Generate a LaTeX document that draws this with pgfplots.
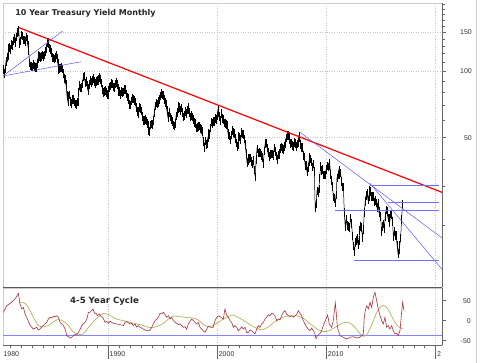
\documentclass[border=0pt]{standalone}
\usepackage{pgfplots}
\pgfplotsset{compat=1.18}
\usepackage{fontspec}
\setmainfont{Liberation Sans}
\newfontfamily\titlefont{DejaVu Sans}
\definecolor{oscred}{HTML}{A8323E}
\definecolor{olivec}{HTML}{B2B25A}
\definecolor{tlblue}{HTML}{5A5AF5}
\definecolor{hblue}{HTML}{6E6EFF}
\definecolor{axisgray}{HTML}{666666}
\definecolor{lightframe}{HTML}{CCCCCC}
\definecolor{labelc}{HTML}{333333}
\begin{document}
\begin{tikzpicture}[x=1pt,y=1pt]
\useasboundingbox (0,0) rectangle (480,363);
\draw[lightframe, line width=0.6pt] (476.5,0) -- (476.5,363);
% ---------------- top panel ----------------
\begin{axis}[
  at={(3pt,76pt)}, anchor=south west,
  scale only axis, width=439pt, height=284pt,
  xmin=1980.35, xmax=2020.58,
  ymode=log, ymin=10.56, ymax=203.4,
  axis line style={draw=lightframe, line width=0.6pt},
  xtick={1990,2000,2010,2020}, xticklabels={}, xtick style={draw=none},
  xmajorgrids, ymajorgrids,
  grid style={dotted, draw=gray!45, line width=0.5pt},
  ytick={50,100,150}, yticklabels={},
  minor ytick={20,30,40,60,70,80,90,110,120,130,140,160,170,180,190,200},
  ytick pos=right, tick align=outside,
  major tick length=4pt, minor tick length=2.5pt,
  ytick style={draw=axisgray, line width=0.5pt},
  clip mode=individual,
]
\addplot[black, line width=0.5pt,
  error bars/.cd, y dir=both, y fixed relative=0.045,
  error bar style={black, line width=0.6pt}, error mark=none]
table {
x y
1980.375 101.8
1980.458 97.8
1980.542 102.5
1980.625 111.0
1980.708 115.1
1980.792 117.5
1980.875 126.8
1980.958 128.4
1981.042 125.7
1981.125 131.9
1981.208 131.2
1981.292 136.8
1981.375 141.0
1981.458 134.7
1981.542 142.8
1981.625 149.4
1981.708 153.2
1981.792 151.5
1981.875 133.9
1981.958 137.2
1982.042 145.9
1982.125 144.3
1982.208 138.6
1982.292 138.7
1982.375 136.2
1982.458 143.0
1982.542 139.5
1982.625 130.6
1982.708 123.4
1982.792 109.1
1982.875 105.5
1982.958 105.4
1983.042 104.6
1983.125 107.2
1983.208 105.1
1983.292 104.0
1983.375 103.8
1983.458 108.5
1983.542 113.8
1983.625 118.5
1983.708 116.5
1983.792 115.4
1983.875 116.9
1983.958 118.3
1984.042 116.7
1984.125 118.4
1984.208 123.2
1984.292 126.3
1984.375 134.1
1984.458 135.6
1984.542 133.6
1984.625 127.2
1984.708 125.2
1984.792 121.6
1984.875 115.7
1984.958 115.0
1985.042 113.8
1985.125 115.1
1985.208 118.6
1985.292 114.3
1985.375 108.5
1985.458 101.6
1985.542 103.1
1985.625 103.3
1985.708 103.7
1985.792 102.4
1985.875 97.8
1985.958 92.6
1986.042 91.9
1986.125 87.0
1986.208 77.8
1986.292 73.0
1986.375 77.1
1986.458 78.0
1986.542 73.0
1986.625 71.7
1986.708 74.5
1986.792 74.3
1986.875 72.5
1986.958 71.1
1987.042 70.8
1987.125 72.5
1987.208 72.5
1987.292 80.2
1987.375 86.1
1987.458 84.0
1987.542 84.5
1987.625 87.6
1987.708 94.2
1987.792 95.2
1987.875 88.6
1987.958 89.9
1988.042 86.7
1988.125 82.1
1988.208 83.7
1988.292 87.2
1988.375 90.9
1988.458 89.2
1988.542 90.6
1988.625 92.6
1988.708 89.8
1988.792 88.0
1988.875 89.6
1988.958 91.1
1989.042 90.9
1989.125 91.7
1989.208 93.6
1989.292 91.8
1989.375 88.6
1989.458 82.8
1989.542 80.2
1989.625 81.1
1989.708 81.9
1989.792 80.1
1989.875 78.7
1989.958 78.4
1990.042 82.1
1990.125 84.7
1990.208 85.9
1990.292 87.9
1990.375 87.6
1990.458 84.8
1990.542 84.7
1990.625 87.5
1990.708 88.9
1990.792 87.2
1990.875 83.9
1990.958 80.8
1991.042 80.9
1991.125 78.5
1991.208 81.1
1991.292 80.4
1991.375 80.7
1991.458 82.8
1991.542 82.7
1991.625 79.0
1991.708 76.5
1991.792 75.3
1991.875 74.2
1991.958 70.9
1992.042 70.3
1992.125 73.4
1992.208 75.4
1992.292 74.8
1992.375 73.9
1992.458 72.6
1992.542 68.4
1992.625 65.9
1992.708 64.2
1992.792 65.9
1992.875 68.7
1992.958 67.7
1993.042 66.0
1993.125 62.6
1993.208 59.8
1993.292 59.7
1993.375 60.4
1993.458 59.6
1993.542 58.1
1993.625 56.8
1993.708 53.6
1993.792 53.3
1993.875 57.2
1993.958 57.7
1994.042 57.5
1994.125 59.7
1994.208 64.8
1994.292 69.7
1994.375 71.8
1994.458 71.0
1994.542 73.0
1994.625 72.4
1994.708 74.6
1994.792 77.4
1994.875 79.6
1994.958 78.1
1995.042 77.8
1995.125 74.7
1995.208 72.0
1995.292 70.6
1995.375 66.3
1995.458 61.7
1995.542 62.8
1995.625 64.9
1995.708 62.0
1995.792 60.4
1995.875 59.3
1995.958 57.1
1996.042 56.5
1996.125 58.1
1996.208 62.7
1996.292 65.1
1996.375 67.4
1996.458 69.1
1996.542 68.7
1996.625 66.4
1996.708 68.3
1996.792 65.3
1996.875 62.0
1996.958 63.0
1997.042 65.8
1997.125 64.2
1997.208 66.9
1997.292 68.9
1997.375 67.1
1997.458 64.9
1997.542 62.2
1997.625 63.0
1997.708 62.1
1997.792 60.3
1997.875 58.8
1997.958 58.1
1998.042 55.4
1998.125 55.7
1998.208 56.5
1998.292 56.4
1998.375 56.5
1998.458 55.0
1998.542 54.6
1998.625 53.4
1998.708 48.1
1998.792 45.3
1998.875 48.3
1998.958 46.5
1999.042 47.2
1999.125 50.0
1999.208 52.3
1999.292 51.8
1999.375 55.4
1999.458 59.0
1999.542 57.9
1999.625 59.4
1999.708 59.2
1999.792 61.1
1999.875 60.3
1999.958 62.8
2000.042 66.6
2000.125 65.2
2000.208 62.6
2000.292 59.9
2000.375 64.4
2000.458 61.0
2000.542 60.5
2000.625 58.3
2000.708 58.0
2000.792 57.4
2000.875 57.2
2000.958 52.4
2001.042 51.6
2001.125 51.0
2001.208 48.9
2001.292 51.4
2001.375 53.9
2001.458 52.8
2001.542 52.4
2001.625 49.7
2001.708 47.3
2001.792 45.7
2001.875 46.5
2001.958 50.9
2002.042 50.4
2002.125 49.1
2002.208 52.8
2002.292 52.1
2002.375 51.6
2002.458 49.3
2002.542 46.5
2002.625 42.6
2002.708 38.7
2002.792 39.4
2002.875 40.5
2002.958 40.3
2003.042 40.5
2003.125 39.0
2003.208 38.1
2003.292 39.6
2003.375 35.7
2003.458 33.3
2003.542 39.8
2003.625 44.5
2003.708 42.7
2003.792 42.9
2003.875 43.0
2003.958 42.7
2004.042 41.5
2004.125 40.8
2004.208 38.3
2004.292 43.5
2004.375 47.2
2004.458 47.3
2004.542 45.0
2004.625 42.8
2004.708 41.3
2004.792 41.0
2004.875 41.9
2004.958 42.3
2005.042 42.2
2005.125 41.7
2005.208 45.0
2005.292 43.4
2005.375 41.4
2005.458 40.0
2005.542 41.8
2005.625 42.6
2005.708 42.0
2005.792 44.6
2005.875 45.4
2005.958 44.7
2006.042 44.2
2006.125 45.7
2006.208 47.2
2006.292 49.9
2006.375 51.1
2006.458 51.1
2006.542 50.9
2006.625 48.8
2006.708 47.2
2006.792 47.3
2006.875 46.0
2006.958 45.6
2007.042 47.6
2007.125 47.2
2007.208 45.6
2007.292 46.9
2007.375 47.5
2007.458 51.0
2007.542 50.0
2007.625 46.7
2007.708 45.2
2007.792 45.3
2007.875 41.5
2007.958 41.0
2008.042 37.4
2008.125 37.4
2008.208 35.1
2008.292 36.8
2008.375 38.8
2008.458 41.0
2008.542 40.1
2008.625 38.9
2008.708 36.9
2008.792 38.1
2008.875 35.3
2008.958 24.2
2009.042 25.2
2009.125 28.7
2009.208 28.2
2009.292 29.3
2009.375 32.9
2009.458 37.2
2009.542 35.6
2009.625 35.9
2009.708 34.0
2009.792 33.9
2009.875 34.0
2009.958 35.9
2010.042 37.3
2010.125 36.9
2010.208 37.3
2010.292 38.5
2010.375 34.2
2010.458 32.0
2010.542 30.1
2010.625 27.0
2010.708 26.5
2010.792 25.4
2010.875 27.6
2010.958 32.9
2011.042 33.9
2011.125 35.8
2011.208 34.1
2011.292 34.6
2011.375 31.7
2011.458 30.0
2011.542 30.0
2011.625 23.0
2011.708 19.8
2011.792 21.5
2011.875 20.1
2011.958 19.8
2012.042 19.7
2012.125 19.7
2012.208 21.7
2012.292 20.5
2012.375 18.0
2012.458 16.2
2012.542 15.3
2012.625 16.8
2012.708 17.2
2012.792 17.5
2012.875 16.5
2012.958 17.2
2013.042 19.1
2013.125 19.8
2013.208 19.6
2013.292 17.6
2013.375 19.3
2013.458 23.0
2013.542 25.8
2013.625 27.4
2013.708 28.1
2013.792 26.2
2013.875 27.2
2013.958 29.0
2014.042 28.6
2014.125 27.1
2014.208 27.2
2014.292 27.1
2014.375 25.6
2014.458 26.0
2014.542 25.4
2014.625 24.2
2014.708 25.3
2014.792 23.0
2014.875 23.3
2014.958 22.1
2015.042 18.8
2015.125 19.8
2015.208 20.4
2015.292 19.4
2015.375 22.0
2015.458 23.6
2015.542 23.2
2015.625 21.7
2015.708 21.7
2015.792 20.7
2015.875 22.6
2015.958 22.4
2016.042 20.9
2016.125 17.8
2016.208 18.9
2016.292 18.1
2016.375 18.1
2016.458 16.4
2016.542 15.0
2016.625 15.6
2016.708 16.3
2016.792 17.6
2016.875 21.4
2016.958 24.9
};
% trend lines
\addplot[red, line width=1.2pt] coordinates {(1981.82,157.3) (2020.58,28.3)};
\addplot[tlblue, line width=0.5pt] coordinates {(1980.35,95.1) (1985.82,151.9)};
\addplot[tlblue, line width=0.5pt] coordinates {(1980.35,95.1) (1987.50,110.3)};
\addplot[tlblue, line width=0.5pt] coordinates {(2007.50,53.2) (2020.58,17.6)};
\addplot[tlblue, line width=0.5pt] coordinates {(2013.98,31.1) (2020.58,12.7)};
\addplot[hblue, line width=1pt] coordinates {(2013.98,30.4) (2020.30,30.4)};
\addplot[hblue, line width=1pt] coordinates {(2015.60,25.35) (2020.30,25.35)};
\addplot[hblue, line width=1pt] coordinates {(2010.77,23.5) (2020.30,23.5)};
\addplot[hblue, line width=1pt] coordinates {(2012.51,13.94) (2020.30,13.94)};
\draw[axisgray, line width=0.7pt] (rel axis cs:1,0) -- (rel axis cs:1,1);
\draw[axisgray, line width=0.8pt] (rel axis cs:0,0) -- (rel axis cs:1,0);
\pgfplotsinvokeforeach{50,100,150}{
  \node[anchor=east, inner sep=0pt, font=\fontsize{7}{8}\selectfont, text=labelc, xshift=30pt]
    at (axis cs:2020.58,#1) {#1};
}
\end{axis}
\node[anchor=west, inner sep=0pt, font=\titlefont\bfseries\fontsize{8}{9.5}\selectfont, text=black!85]
  at (15.2,349.3) {10 Year Treasury Yield Monthly};
% ---------------- bottom panel ----------------
\begin{axis}[
  at={(3pt,18pt)}, anchor=south west,
  scale only axis, width=439pt, height=57pt,
  xmin=1980.35, xmax=2020.58,
  ymin=-60.75, ymax=81.75,
  axis line style={draw=lightframe, line width=0.6pt},
  xtick={1990,2000,2010,2020}, xticklabels={},
  minor xtick={1981,1982,...,2019},
  xmajorgrids,
  grid style={dotted, draw=gray!45, line width=0.5pt},
  ytick={-50,0,50}, yticklabels={},
  xtick pos=left, ytick pos=right, tick align=outside,
  major tick length=3.5pt, minor tick length=3.5pt,
  tick style={draw=axisgray, line width=0.5pt},
  clip mode=individual,
]
\addplot[hblue!85, line width=1.1pt] coordinates {(1980.35,-37.5) (2020.58,-37.5)};
\addplot[olivec, line width=0.7pt, smooth] coordinates {
(1981.76,46) (1982.07,46) (1982.37,43) (1982.68,33) (1982.98,17) (1983.29,0)
(1983.59,-12) (1983.90,-16) (1984.20,-15) (1984.51,-12) (1984.81,-6) (1985.12,0)
(1985.43,3) (1985.73,1) (1986.04,-4) (1986.34,-12) (1986.65,-24) (1986.95,-31)
(1987.26,-34) (1987.56,-35) (1987.90,-27) (1988.32,-12) (1988.90,5) (1989.54,18)
(1990.10,14) (1990.76,4) (1991.40,0) (1991.99,-4) (1992.60,-8) (1993.21,-12)
(1993.60,-16) (1993.97,-18) (1994.50,-14) (1995.04,-7) (1995.50,4) (1995.96,11)
(1996.60,10) (1997.18,8) (1997.65,7) (1998.10,4) (1998.50,-4) (1998.86,-12)
(1999.32,-15) (1999.90,-7) (2000.54,4) (2001.00,11) (2001.45,14) (2002.06,6)
(2002.68,-4) (2003.30,-15) (2004.05,-23)
(2004.51,-18) (2004.82,-12) (2005.12,-6) (2005.43,0) (2005.73,5)
(2006.04,9) (2006.34,11) (2006.65,12) (2006.95,12) (2007.26,12) (2007.57,10)
(2007.87,6) (2008.18,0) (2008.48,-7) (2008.79,-14) (2009.09,-20) (2009.40,-25)
(2009.70,-27) (2010.01,-27) (2010.32,-24) (2010.62,-19) (2010.92,-14) (2011.23,-9)
(2011.54,-5) (2011.84,-4) (2012.15,-6) (2012.45,-12) (2012.76,-22) (2013.06,-32)
(2013.37,-39) (2013.68,-35) (2013.98,-20) (2014.29,0) (2014.59,20) (2014.90,33)
(2015.20,38) (2015.51,33) (2015.81,20) (2016.12,3) (2016.42,-10) (2016.73,-17)
(2017.03,-21)
};
\addplot[oscred, line width=0.6pt] coordinates {
(1980.39,20.9) (1980.69,37.6) (1981.00,43.4) (1981.30,50.1) (1981.55,58.4) (1981.76,68.4)
(1981.91,41.8) (1982.07,29.3) (1982.22,33.4) (1982.37,16.8) (1982.52,8.4) (1982.77,-8.3)
(1982.98,-16.6) (1983.13,-20.8) (1983.44,-16.6) (1983.59,-23.3) (1983.75,-20.8) (1983.90,-14.9)
(1984.05,-12.4) (1984.36,-4.1) (1984.51,4.3) (1984.66,8.4) (1984.81,6.8) (1984.97,10.9)
(1985.12,10.1) (1985.27,12.6) (1985.43,8.4) (1985.58,-4.1) (1985.73,-8.3) (1985.88,-12.4)
(1986.04,-20.8) (1986.19,-37.4) (1986.34,-39.9) (1986.49,-43.3) (1986.65,-41.6) (1986.80,-37.4)
(1986.95,-34.9) (1987.17,-33.3) (1987.35,-24.9) (1987.47,-18.3) (1987.65,-8.3) (1987.78,-6.6)
(1987.96,0.1) (1988.08,8.4) (1988.17,20.9) (1988.32,21) (1988.60,29) (1988.75,18.4)
(1988.88,18.4) (1989.00,12.6) (1989.18,16.8) (1989.30,12) (1989.50,8) (1989.70,-4)
(1989.85,-1.6) (1990.01,-6.6) (1990.16,-1.6) (1990.31,-4) (1990.46,-6.6) (1990.76,-8)
(1991.08,-10) (1991.40,-12) (1991.53,-4) (1991.69,-2) (1991.99,-8.3) (1992.15,-6.6)
(1992.30,-12.4) (1992.45,-8.3) (1992.60,-16) (1992.76,-12.4) (1992.91,-16.6) (1993.06,-18.3)
(1993.21,-21) (1993.37,-23.3) (1993.52,-24.9) (1993.80,-25) (1993.98,-16.6) (1994.13,-8.3)
(1994.28,0.1) (1994.44,4) (1994.58,8) (1994.73,18) (1994.89,16.8) (1995.04,21)
(1995.20,15.1) (1995.35,8.4) (1995.51,12.6) (1995.66,4.3) (1995.81,8.4) (1995.96,0.1)
(1996.12,-4.1) (1996.27,-6.6) (1996.42,-9.9) (1996.60,-8) (1996.73,-12.4) (1996.88,-16.6)
(1997.03,-14.9) (1997.18,-21) (1997.34,-8) (1997.49,-2) (1997.64,4) (1997.80,0.1)
(1997.95,-4.1) (1998.10,-8.3) (1998.25,-4.1) (1998.41,-17) (1998.56,-20.8) (1998.71,-26)
(1998.86,-29) (1999.02,-20.8) (1999.17,-14) (1999.32,-16) (1999.60,-17) (1999.78,0)
(1999.93,8) (2000.09,12) (2000.24,10) (2000.54,4) (2000.69,29.3) (2000.85,14)
(2001.00,8.4) (2001.15,0.1) (2001.30,-4.1) (2001.46,-16.6) (2001.61,-12.4) (2001.76,-16.6)
(2001.91,-24.9) (2002.07,-20.8) (2002.22,-14.9) (2002.37,-20.8) (2002.53,-16.6) (2002.68,-30)
(2002.83,-29.1) (2002.98,-23.3) (2003.14,-24.9) (2003.29,-29.1) (2003.44,-33.3) (2003.60,-20.8)
(2003.75,-12.4) (2003.90,-16.6) (2004.05,-8.3) (2004.21,-4.1) (2004.36,4.3) (2004.51,8.4)
(2004.66,15.1) (2004.82,12.6) (2004.97,18.4) (2005.12,16.8) (2005.27,12.6) (2005.43,0.1)
(2005.58,4.3) (2005.73,1.8) (2005.89,12.6) (2006.04,20.9) (2006.19,25.1) (2006.34,16.8)
(2006.50,12.6) (2006.65,10.1) (2006.80,12.6) (2006.95,8.4) (2007.11,12.6) (2007.26,15.1)
(2007.41,25.1) (2007.57,18.4) (2007.72,12.6) (2007.87,0.1) (2008.02,-8.3) (2008.18,-16.6)
(2008.33,-20.8) (2008.48,-24.9) (2008.63,-18.3) (2008.79,-24.9) (2008.94,-33.3) (2009.03,-45)
(2009.15,-38) (2009.40,-31.6) (2009.55,-24.9) (2009.70,-12.4) (2009.86,-1.6) (2010.01,8.4)
(2010.10,14) (2010.25,-8.3) (2010.47,-16.6) (2010.62,0.1) (2010.80,45) (2010.90,16.8)
(2010.99,-16.6) (2011.23,-37.4) (2011.54,-41.6) (2011.84,-45.8) (2012.15,-41.6) (2012.45,-39.9)
(2012.76,-43.3) (2013.06,-41.6) (2013.22,-37.4) (2013.37,-33.3) (2013.46,8.4) (2013.55,25.1)
(2013.68,37.6) (2013.83,29.3) (2013.98,45.9) (2014.13,33.4) (2014.29,58.4) (2014.44,70.9)
(2014.59,50.1) (2014.74,29.3) (2014.90,12.6) (2015.05,0.1) (2015.20,-8.3) (2015.35,8.4)
(2015.51,-16.6) (2015.66,-12.4) (2015.81,-20.8) (2015.97,-12.4) (2016.12,-24.9) (2016.27,-33.3)
(2016.42,-31.6) (2016.58,-37.4) (2016.73,-24.9) (2016.88,20.9) (2016.97,45.9) (2017.10,25.1)
};
\draw[axisgray, line width=0.7pt] (rel axis cs:1,0) -- (rel axis cs:1,1);
\draw[black!65, line width=1pt] (rel axis cs:0,1) -- (rel axis cs:1,1);
\draw[axisgray, line width=0.7pt] (rel axis cs:0,0) -- (rel axis cs:1,0);
\pgfplotsinvokeforeach{1990,2000,2010,2020}{
  \draw[axisgray, line width=0.6pt] (axis cs:#1,-60.75) -- ++(0pt,-14pt);
}
\pgfplotsinvokeforeach{1990,2000,2010}{
  \node[anchor=west, inner sep=0pt, font=\fontsize{7}{8}\selectfont, text=labelc, xshift=1.2pt, yshift=-8.7pt]
    at (axis cs:#1,-60.75) {#1};
}
\node[anchor=west, inner sep=0pt, font=\fontsize{7}{8}\selectfont, text=labelc, xshift=1.2pt, yshift=-8.7pt]
    at (axis cs:2020,-60.75) {2};
\node[anchor=west, inner sep=0pt, font=\fontsize{7}{8}\selectfont, text=labelc, xshift=0.3pt, yshift=-8.7pt]
    at (rel axis cs:0,0) {1980};
\pgfplotsinvokeforeach{50,0,-50}{
  \node[anchor=east, inner sep=0pt, font=\fontsize{7}{8}\selectfont, text=labelc, xshift=29pt]
    at (axis cs:2020.58,#1) {#1};
}
\end{axis}
\node[anchor=west, inner sep=0pt, font=\titlefont\bfseries\fontsize{8.6}{10}\selectfont, text=black!85]
  at (70,62.3) {4-5 Year Cycle};
\end{tikzpicture}
\end{document}
